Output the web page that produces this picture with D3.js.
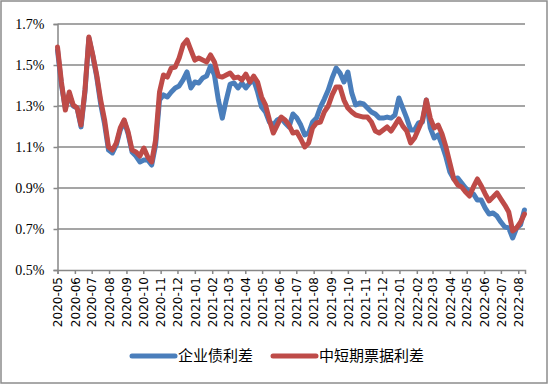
<!DOCTYPE html>
<html>
<head>
<meta charset="utf-8">
<script src="https://cdn.jsdelivr.net/npm/d3@7"></script>
<style>
  body { margin: 0; background: #fff; }
  svg { display: block; }
</style>
</head>
<body>
<script>
var w = 549;
var h = 385;

// weekly observations (Fridays), spread in %
var dates = ["2020-05-01","2020-05-08","2020-05-15","2020-05-22","2020-05-29",
"2020-06-05","2020-06-12","2020-06-19","2020-06-26",
"2020-07-03","2020-07-10","2020-07-17","2020-07-24","2020-07-31",
"2020-08-07","2020-08-14","2020-08-21","2020-08-28",
"2020-09-04","2020-09-11","2020-09-18","2020-09-25",
"2020-10-02","2020-10-09","2020-10-16","2020-10-23","2020-10-30",
"2020-11-06","2020-11-13","2020-11-20","2020-11-27",
"2020-12-04","2020-12-11","2020-12-18","2020-12-25",
"2021-01-01","2021-01-08","2021-01-15","2021-01-22","2021-01-29",
"2021-02-05","2021-02-12","2021-02-19","2021-02-26",
"2021-03-05","2021-03-12","2021-03-19","2021-03-26",
"2021-04-02","2021-04-09","2021-04-16","2021-04-23","2021-04-30",
"2021-05-07","2021-05-14","2021-05-21","2021-05-28",
"2021-06-04","2021-06-11","2021-06-18","2021-06-25",
"2021-07-02","2021-07-09","2021-07-16","2021-07-23","2021-07-30",
"2021-08-06","2021-08-13","2021-08-20","2021-08-27",
"2021-09-03","2021-09-10","2021-09-17","2021-09-24",
"2021-10-01","2021-10-08","2021-10-15","2021-10-22","2021-10-29",
"2021-11-05","2021-11-12","2021-11-19","2021-11-26",
"2021-12-03","2021-12-10","2021-12-17","2021-12-24","2021-12-31",
"2022-01-07","2022-01-14","2022-01-21","2022-01-28",
"2022-02-04","2022-02-11","2022-02-18","2022-02-25",
"2022-03-04","2022-03-11","2022-03-18","2022-03-25",
"2022-04-01","2022-04-08","2022-04-15","2022-04-22","2022-04-29",
"2022-05-06","2022-05-13","2022-05-20","2022-05-27",
"2022-06-03","2022-06-10","2022-06-17","2022-06-24",
"2022-07-01","2022-07-08","2022-07-15","2022-07-22","2022-07-29",
"2022-08-05","2022-08-12"];

var corpBond = [1.573,1.402,1.290,1.354,1.300,1.290,1.198,1.368,1.632,1.544,
1.441,1.310,1.212,1.085,1.071,1.110,1.183,1.227,1.163,1.076,
1.056,1.027,1.037,1.037,1.012,1.110,1.329,1.354,1.344,1.368,
1.388,1.398,1.427,1.466,1.388,1.417,1.412,1.437,1.446,1.495,
1.451,1.329,1.241,1.329,1.407,1.412,1.388,1.412,1.388,1.412,
1.427,1.368,1.295,1.271,1.222,1.207,1.232,1.241,1.217,1.198,
1.261,1.241,1.207,1.159,1.168,1.222,1.241,1.295,1.334,1.378,
1.437,1.485,1.461,1.417,1.466,1.363,1.305,1.315,1.310,1.290,
1.271,1.261,1.241,1.241,1.246,1.241,1.256,1.339,1.290,1.241,
1.183,1.183,1.217,1.222,1.329,1.193,1.144,1.159,1.110,1.051,
0.978,0.944,0.949,0.924,0.900,0.880,0.871,0.841,0.841,0.802,
0.773,0.778,0.763,0.734,0.710,0.705,0.656,0.705,0.720,0.793];

var shortBill = [1.588,1.417,1.280,1.368,1.305,1.290,1.207,1.378,1.637,1.549,
1.451,1.329,1.232,1.100,1.085,1.120,1.193,1.232,1.173,1.085,
1.076,1.056,1.095,1.051,1.027,1.134,1.368,1.451,1.441,1.485,
1.490,1.534,1.598,1.622,1.573,1.524,1.534,1.524,1.515,1.549,
1.515,1.446,1.441,1.451,1.461,1.437,1.441,1.427,1.456,1.417,
1.446,1.417,1.344,1.305,1.232,1.168,1.207,1.246,1.232,1.207,
1.168,1.173,1.139,1.100,1.120,1.193,1.217,1.222,1.271,1.300,
1.354,1.393,1.393,1.329,1.290,1.271,1.256,1.251,1.246,1.246,
1.222,1.178,1.168,1.183,1.198,1.178,1.207,1.237,1.202,1.178,
1.120,1.144,1.188,1.232,1.329,1.241,1.193,1.207,1.163,1.100,
1.022,0.944,0.915,0.905,0.880,0.861,0.905,0.944,0.910,0.871,
0.837,0.856,0.876,0.846,0.817,0.783,0.690,0.705,0.734,0.773];

var seriesNames = ["企业债利差", "中短期票据利差"];
var seriesColors = ["#4a7ebb", "#be4b48"];

var yTicks = [0.5, 0.7, 0.9, 1.1, 1.3, 1.5, 1.7];
var monthLabels = ["2020-05","2020-06","2020-07","2020-08","2020-09","2020-10","2020-11","2020-12",
"2021-01","2021-02","2021-03","2021-04","2021-05","2021-06","2021-07","2021-08","2021-09","2021-10","2021-11","2021-12",
"2022-01","2022-02","2022-03","2022-04","2022-05","2022-06","2022-07","2022-08"];

var parseDay = d3.timeParse("%Y-%m-%d");
var parseMonth = d3.timeParse("%Y-%m");

var x = d3.scaleTime()
    .domain([parseDay("2020-05-01"), parseDay("2022-08-13")])
    .range([57.5, 525]);

var y = d3.scaleLinear()
    .domain([0.5, 1.7])
    .range([270, 24]);

var svg = d3.select("body").append("svg").attr("width", w).attr("height", h);

// outer frame
svg.append("rect")
  .attr("x", 1).attr("y", 1)
  .attr("width", w - 3).attr("height", h - 3)
  .attr("fill", "#fff")
  .attr("stroke", "#8c8c8c")
  .attr("stroke-width", 1.5);

// horizontal gridlines
svg.append("g")
  .selectAll("line")
  .data(yTicks.slice(1))
  .enter().append("line")
  .attr("x1", 57.5).attr("x2", 525)
  .attr("y1", function(d) { return y(d); })
  .attr("y2", function(d) { return y(d); })
  .attr("stroke", "#878787")
  .attr("stroke-width", 1.5);

var yAxis = svg.append("g")
  .attr("transform", "translate(57.5,0)")
  .call(d3.axisLeft(y).tickValues(yTicks).tickSize(4).tickPadding(9)
    .tickFormat(function(d) { return d.toFixed(1) + "%"; }));

yAxis.selectAll("text")
  .style("font-family", "'Liberation Serif', 'Times New Roman', serif")
  .style("font-size", "14px")
  .attr("fill", "#000");

var xAxis = svg.append("g")
  .attr("transform", "translate(0,270)")
  .call(d3.axisBottom(x)
    .tickValues(monthLabels.map(function(m) { return parseMonth(m); }))
    .tickSize(4)
    .tickFormat(d3.timeFormat("%Y-%m")));

xAxis.selectAll("text")
  .style("font-family", "'DejaVu Sans', sans-serif")
  .style("font-size", "12px")
  .attr("fill", "#000")
  .attr("text-anchor", "end")
  .attr("transform", "rotate(-90)")
  .attr("x", -7)
  .attr("y", 0)
  .attr("dy", "0.35em");

svg.selectAll(".domain, .tick line")
  .attr("stroke", "#878787")
  .attr("stroke-width", 1.5);

var line = d3.line()
  .x(function(d) { return x(d.date); })
  .y(function(d) { return y(d.v); });

[corpBond, shortBill].forEach(function(vals, i) {
  var pts = vals.map(function(v, j) { return { date: parseDay(dates[j]), v: v }; });
  svg.append("path")
    .datum(pts)
    .attr("d", line)
    .attr("fill", "none")
    .attr("stroke", seriesColors[i])
    .attr("stroke-width", 5)
    .attr("stroke-linejoin", "round")
    .attr("stroke-linecap", "round");
});

// legend
var legend = svg.append("g").attr("transform", "translate(0,356)");
var legendX = [132, 273];

seriesNames.forEach(function(name, i) {
  legend.append("line")
    .attr("x1", legendX[i]).attr("x2", legendX[i] + 43)
    .attr("y1", 0).attr("y2", 0)
    .attr("stroke", seriesColors[i])
    .attr("stroke-width", 5)
    .attr("stroke-linecap", "round");
  legend.append("text")
    .attr("x", legendX[i] + 46)
    .attr("y", 0)
    .attr("dy", "0.35em")
    .style("font-family", "'Noto Sans CJK SC', sans-serif")
    .style("font-size", "15px")
    .text(name);
});
</script>
</body>
</html>
